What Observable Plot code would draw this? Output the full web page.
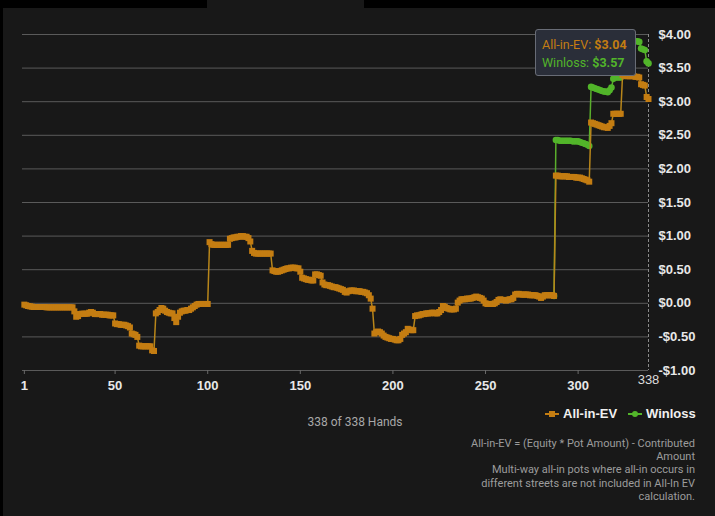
<!DOCTYPE html>
<html>
<head>
<meta charset="utf-8">
<script src="https://cdn.jsdelivr.net/npm/d3@7"></script>
<script src="https://cdn.jsdelivr.net/npm/@observablehq/plot@0.6"></script>
<style>
  html, body { margin: 0; padding: 0; background: #181818; }
  #wrap { position: relative; width: 715px; height: 516px; overflow: hidden; background: #181818; font-family: "Liberation Sans", Arial, sans-serif; }
  .blk { position: absolute; background: #000; }
  #chart { position: absolute; left: 0; top: 0; }
  #tip { position: absolute; left: 535px; top: 29px; width: 99px; height: 45px; background: #2a2e39; border: 1px solid #686c76; border-radius: 3px; font-family: Roboto, "Liberation Sans", sans-serif; font-size: 12.5px; box-sizing: content-box; }
  #tip div { position: absolute; left: 6px; white-space: nowrap; }
  #legend { position: absolute; top: 406px; left: 540px; height: 16px; font-size: 13px; font-weight: bold; color: #f0f0f0; white-space: nowrap; }
  .li { position: absolute; top: 0; line-height: 16px; }
  .mk { position: absolute; top: 0; width: 14px; height: 16px; }
  #hands { position: absolute; top: 414px; left: 255px; width: 200px; text-align: center; font-family: Roboto, "Liberation Sans", sans-serif; font-size: 12px; color: #a8a8a8; line-height: 16px; }
  #note { position: absolute; top: 437px; right: 20px; text-align: right; font-family: Roboto, "Liberation Sans", sans-serif; font-size: 11px; color: #9c9c9c; line-height: 13.2px; white-space: nowrap; }
</style>
</head>
<body>
<div id="wrap">
  <div id="chart"></div>
  <div class="blk" style="left:0;top:0;width:207px;height:8px"></div>
  <div class="blk" style="left:364px;top:0;width:351px;height:8px"></div>
  <div class="blk" style="left:0;top:0;width:3px;height:516px"></div>
  <div id="tip"></div>
  <div id="legend"></div>
  <div id="hands"></div>
  <div id="note"></div>
</div>
<script>
// ---- data ----
const seriesNames = ["All-in-EV", "Winloss"];
const seriesColors = ["#c47d12", "#52b52a"];
const totalHands = 338;

// All-in-EV cumulative value per hand (hands 1..338)
const allInEV = [
  -0.02,-0.03,-0.04,-0.045,-0.05,-0.055,-0.055,-0.055,-0.055,-0.055,
  -0.055,-0.055,-0.06,-0.06,-0.06,-0.06,-0.06,-0.06,-0.06,-0.06,
  -0.06,-0.06,-0.06,-0.06,-0.06,-0.06,-0.06,-0.12,-0.20,-0.19,
  -0.16,-0.155,-0.155,-0.155,-0.155,-0.14,-0.13,-0.14,-0.16,-0.16,
  -0.16,-0.16,-0.17,-0.17,-0.17,-0.17,-0.18,-0.18,-0.18,-0.30,
  -0.31,-0.31,-0.32,-0.32,-0.32,-0.33,-0.34,-0.36,-0.45,-0.46,
  -0.47,-0.50,-0.63,-0.64,-0.64,-0.64,-0.64,-0.64,-0.64,-0.70,
  -0.71,-0.15,-0.13,-0.10,-0.07,-0.08,-0.11,-0.13,-0.14,-0.15,
  -0.15,-0.22,-0.28,-0.20,-0.14,-0.12,-0.11,-0.11,-0.10,-0.10,
  -0.08,-0.06,-0.04,-0.02,-0.01,-0.01,-0.01,-0.01,-0.01,-0.01,
  0.91,0.88,0.87,0.87,0.87,0.87,0.87,0.87,0.87,0.87,
  0.87,0.96,0.97,0.98,0.98,0.99,0.99,1.00,1.00,0.99,
  0.99,0.97,0.92,0.78,0.75,0.74,0.74,0.74,0.74,0.74,
  0.74,0.74,0.74,0.74,0.49,0.48,0.47,0.47,0.48,0.49,
  0.50,0.51,0.52,0.52,0.53,0.53,0.53,0.52,0.52,0.47,
  0.38,0.37,0.36,0.35,0.35,0.34,0.34,0.43,0.43,0.42,
  0.41,0.31,0.28,0.27,0.27,0.26,0.25,0.24,0.24,0.23,
  0.22,0.21,0.20,0.17,0.16,0.18,0.19,0.19,0.19,0.18,
  0.18,0.18,0.17,0.17,0.16,0.15,0.12,0.07,-0.08,-0.45,
  -0.43,-0.42,-0.43,-0.45,-0.48,-0.50,-0.51,-0.52,-0.53,-0.53,
  -0.54,-0.55,-0.55,-0.53,-0.47,-0.45,-0.43,-0.38,-0.39,-0.40,
  -0.40,-0.19,-0.18,-0.18,-0.17,-0.16,-0.16,-0.15,-0.15,-0.15,
  -0.14,-0.14,-0.15,-0.15,-0.13,-0.10,-0.04,-0.05,-0.07,-0.08,
  -0.09,-0.09,-0.09,-0.08,0.01,0.04,0.06,0.06,0.06,0.07,
  0.07,0.07,0.08,0.09,0.10,0.09,0.08,0.07,0.04,0.00,
  -0.01,-0.01,-0.01,-0.01,0.00,0.02,0.05,0.06,0.05,0.05,
  0.04,0.05,0.06,0.06,0.08,0.13,0.14,0.14,0.13,0.13,
  0.13,0.13,0.13,0.12,0.12,0.12,0.12,0.11,0.10,0.08,
  0.10,0.12,0.12,0.12,0.12,0.12,0.11,1.90,1.90,1.89,
  1.89,1.89,1.89,1.89,1.88,1.88,1.88,1.88,1.87,1.87,
  1.87,1.86,1.85,1.84,1.83,1.81,2.69,2.68,2.67,2.66,
  2.65,2.64,2.63,2.62,2.62,2.61,2.64,2.68,2.82,2.82,
  2.82,2.82,2.82,3.40,3.39,3.38,3.38,3.38,3.38,3.38,
  3.37,3.37,3.36,3.26,3.25,3.24,3.07,3.04
];

// Winloss per hand where it differs from All-in-EV (hands 287..338)
const winlossStart = 287;
const winloss = [
  0.11,2.43,2.43,2.42,
  2.42,2.42,2.42,2.42,2.42,2.42,2.41,2.41,2.41,2.41,
  2.40,2.39,2.38,2.37,2.36,2.34,3.22,3.21,3.20,3.19,
  3.18,3.17,3.16,3.15,3.15,3.14,3.17,3.21,3.34,3.36,
  3.36,3.36,3.36,3.93,3.92,3.92,3.92,3.91,3.91,3.91,
  3.90,3.90,3.89,3.79,3.78,3.77,3.60,3.57
];

const xTicks = [1, 50, 100, 150, 200, 250, 300];
const yTicks = [-1, -0.5, 0, 0.5, 1, 1.5, 2, 2.5, 3, 3.5, 4];
const tooltipValues = [3.04, 3.57];
const footnoteLines = [
  "All-in-EV = (Equity * Pot Amount) - Contributed",
  "Amount",
  "Multi-way all-in pots where all-in occurs in",
  "different streets are not included in All-In EV",
  "calculation."
];

// ---- chart ----
const evData = allInEV.map((v, i) => ({hand: i + 1, v}));
const wlData = winloss.map((v, i) => ({hand: winlossStart + i, v}));
const money = d => (d < 0 ? "-" : "") + "$" + Math.abs(d).toFixed(2);

const chart = Plot.plot({
  width: 715,
  height: 400,
  marginTop: 34,
  marginBottom: 30,
  marginLeft: 22,
  marginRight: 67,
  style: {background: "transparent", color: "#e8e8e8", fontFamily: "'Liberation Sans', Arial, sans-serif", fontSize: "13px", fontWeight: "bold", overflow: "visible"},
  x: {domain: [0, totalHands]},
  y: {domain: [-1, 4]},
  marks: [
    Plot.gridY(yTicks, {stroke: "#5a5a5a", strokeOpacity: 1, strokeWidth: 1}),
    Plot.ruleX([totalHands], {stroke: "#8a8a8a", strokeDasharray: "3,2", strokeWidth: 1}),
    Plot.axisY(yTicks, {anchor: "right", tickSize: 0, tickPadding: 10, tickFormat: money, fill: "#e8e8e8", label: null}),
    Plot.axisX(xTicks, {anchor: "bottom", tickSize: 4, tickPadding: 6, stroke: "#6a6a6a", fill: "#e8e8e8", label: null, tickFormat: d => String(d)}),
    Plot.line(wlData, {x: "hand", y: "v", stroke: "#5aae2c", strokeWidth: 1.5}),
    Plot.dot(wlData, {x: "hand", y: "v", r: 3.3, fill: seriesColors[1], stroke: "none"}),
    Plot.line(evData, {x: "hand", y: "v", stroke: "#b8861a", strokeWidth: 1.5}),
    Plot.dot(evData, {x: "hand", y: "v", symbol: "square", r: 3.4, fill: seriesColors[0], stroke: "none"}),
    Plot.text([totalHands], {x: d => d, frameAnchor: "bottom", dy: 13, text: d => String(d), fill: "#dcdcdc", fontWeight: "normal", fontSize: 13})
  ]
});
document.getElementById("chart").appendChild(chart);

// tooltip
const tip = document.getElementById("tip");
seriesNames.forEach((name, i) => {
  const div = document.createElement("div");
  div.style.top = (i === 0 ? 7 : 25) + "px";
  div.style.color = seriesColors[i];
  div.innerHTML = name + ": <b>" + money(tooltipValues[i]) + "</b>";
  tip.appendChild(div);
});

// legend
const legend = document.getElementById("legend");
const legendPos = [[5, 23], [88, 106]];
seriesNames.forEach((name, i) => {
  const mk = document.createElementNS("http://www.w3.org/2000/svg", "svg");
  mk.setAttribute("class", "mk");
  mk.setAttribute("width", 14); mk.setAttribute("height", 16);
  mk.style.left = legendPos[i][0] + "px";
  mk.innerHTML = `<line x1="0" x2="14" y1="8" y2="8" stroke="${seriesColors[i]}" stroke-width="2"/>` +
    (i === 0 ? `<rect x="4" y="5" width="6" height="6" fill="${seriesColors[i]}"/>` : `<circle cx="7" cy="8" r="3" fill="${seriesColors[i]}"/>`);
  legend.appendChild(mk);
  const t = document.createElement("div");
  t.className = "li";
  t.style.left = legendPos[i][1] + "px";
  t.textContent = name;
  legend.appendChild(t);
});

document.getElementById("hands").textContent = `${allInEV.length} of ${totalHands} Hands`;
document.getElementById("note").innerHTML = footnoteLines.map(s => `<div>${s}</div>`).join("");
</script>
</body>
</html>
